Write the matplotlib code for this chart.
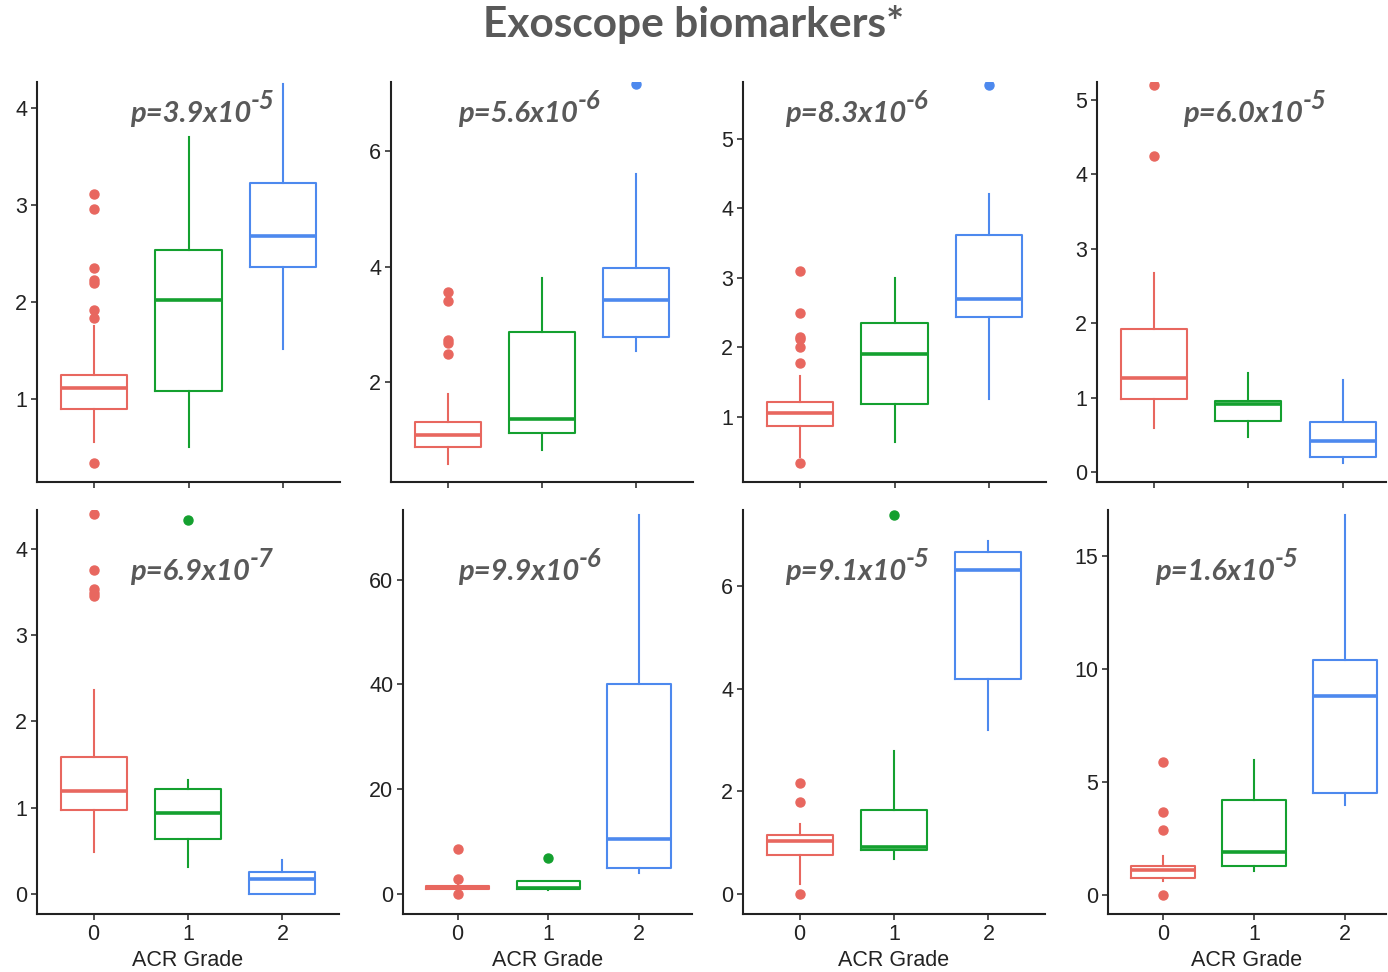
import numpy as np
import matplotlib.pyplot as plt

# ---------------------------- data ---------------------------- #
GRADES = [0, 1, 2]
GRADE_LABELS = ["0", "1", "2"]
COLORS = ["#E8675F", "#14A02F", "#4D89EE"]

# one row per panel, one value per ACR grade (0, 1, 2)
Q1 = [[0.90, 1.08, 2.36], [0.88, 1.12, 2.78], [0.86, 1.19, 2.43], [0.98, 0.69, 0.20],
      [0.98, 0.64, 0.00], [0.95, 1.01, 4.96], [0.75, 0.86, 4.18], [0.75, 1.30, 4.52]]
MED = [[1.11, 2.02, 2.68], [1.08, 1.37, 3.42], [1.05, 1.91, 2.70], [1.26, 0.92, 0.42],
       [1.20, 0.94, 0.17], [1.26, 1.14, 10.5], [1.04, 0.91, 6.31], [1.09, 1.89, 8.80]]
Q3 = [[1.25, 2.54, 3.23], [1.31, 2.87, 3.97], [1.21, 2.35, 3.61], [1.92, 0.96, 0.68],
      [1.59, 1.22, 0.26], [1.58, 2.41, 40.1], [1.15, 1.64, 6.67], [1.27, 4.22, 10.41]]
WHISK_LO = [[0.56, 0.50, 1.52], [0.58, 0.82, 2.54], [0.42, 0.64, 1.25], [0.60, 0.48, 0.12],
            [0.49, 0.32, 0.00], [0.60, 0.69, 4.00], [0.20, 0.68, 3.20], [0.60, 1.05, 4.00]]
WHISK_HI = [[1.75, 3.70, 4.25], [1.80, 3.80, 5.60], [1.59, 3.00, 4.20], [2.67, 1.34, 1.24],
            [2.37, 1.32, 0.39], [2.00, 2.41, 72.4], [1.36, 2.79, 6.88], [1.74, 5.99, 16.85]]
FLIERS = [
    [[3.11, 2.96, 2.35, 2.23, 2.20, 1.92, 1.84, 0.34], [], []],
    [[3.57, 3.41, 2.73, 2.67, 2.48], [], [7.16]],
    [[3.10, 2.50, 2.15, 2.12, 2.00, 1.77, 0.33], [], [5.78]],
    [[5.20, 4.24], [], []],
    [[4.40, 3.76, 3.53, 3.49, 3.45], [4.33], []],
    [[8.65, 2.86, 0.0], [6.87], []],
    [[2.17, 1.79, 0.0], [7.38], []],
    [[5.88, 3.68, 2.86, 0.0], [], []],
]
P_TEXT = ["p=3.9x10", "p=5.6x10", "p=8.3x10", "p=6.0x10",
          "p=6.9x10", "p=9.9x10", "p=9.1x10", "p=1.6x10"]
P_EXP = ["-5", "-6", "-6", "-5", "-7", "-6", "-5", "-5"]
Y_TICKS = [[1, 2, 3, 4], [2, 4, 6], [1, 2, 3, 4, 5], [0, 1, 2, 3, 4, 5],
           [0, 1, 2, 3, 4], [0, 20, 40, 60], [0, 2, 4, 6], [0, 5, 10, 15]]

# ---------------------------- layout ---------------------------- #
W, H = 1388, 972
# panel rectangles in pixels: left, top, right, bottom
RECTS = [(37, 82, 340, 482), (391, 82, 693, 482), (743, 82, 1046, 482), (1097, 82, 1386, 482),
         (37, 510, 339, 914), (403, 510, 692, 914), (743, 510, 1045, 914), (1108, 510, 1386, 914)]
YLIMS = [(0.144, 4.27), (0.27, 7.20), (0.06, 5.82), (-0.13, 5.24),
         (-0.23, 4.45), (-3.8, 73.3), (-0.39, 7.48), (-0.84, 17.06)]
XRIGHT = [2.6, 2.6, 2.6, 2.46, 2.6, 2.58, 2.6, 2.45]
# left x and baseline y of the p-value text, pixels
P_POS = [(130, 122), (458, 122), (785, 122), (1183, 122),
         (130, 580), (458, 580), (785, 580), (1155, 580)]

GREY = "#595959"
fig = plt.figure(figsize=(W / 100, H / 100), dpi=100)

fig.text(0.5, 1 - 25 / H, "Exoscope biomarkers*", ha="center", va="center",
         fontfamily="Lato", fontweight="bold", fontsize=30.5, color=GREY)

for i in range(8):
    l, t, r, b = RECTS[i]
    ax = fig.add_axes([l / W, 1 - b / H, (r - l) / W, (b - t) / H])

    stats = []
    for g in range(3):
        stats.append(dict(med=MED[i][g], q1=Q1[i][g], q3=Q3[i][g],
                          whislo=WHISK_LO[i][g], whishi=WHISK_HI[i][g],
                          fliers=FLIERS[i][g]))
    parts = ax.bxp(stats, positions=GRADES, widths=0.7, showcaps=False,
                   boxprops=dict(linewidth=1.5), whiskerprops=dict(linewidth=1.5),
                   medianprops=dict(linewidth=2.6, solid_capstyle="butt"))
    for g in range(3):
        c = COLORS[g]
        parts["boxes"][g].set_color(c)
        parts["medians"][g].set_color(c)
        parts["whiskers"][2 * g].set_color(c)
        parts["whiskers"][2 * g + 1].set_color(c)
        parts["fliers"][g].set(marker="o", markersize=6.5, markerfacecolor=c,
                               markeredgecolor=c, linestyle="none")

    ax.set_xlim(-0.6, XRIGHT[i])
    ax.set_ylim(*YLIMS[i])
    ax.set_yticks(Y_TICKS[i])
    ax.set_xticks(GRADES)
    for s in ["top", "right"]:
        ax.spines[s].set_visible(False)
    for s in ["left", "bottom"]:
        ax.spines[s].set_linewidth(1.5)
        ax.spines[s].set_color("#222222")
    ax.tick_params(length=4, width=1.2, color="#333333", labelsize=15.5,
                   labelcolor="#222222", pad=3)
    for lab in ax.get_yticklabels() + ax.get_xticklabels():
        lab.set_fontfamily("Liberation Sans")
    if i < 4:
        ax.set_xticklabels([])
    else:
        ax.set_xticklabels(GRADE_LABELS)
        ax.set_xlabel("ACR Grade", fontsize=15.5, fontfamily="Liberation Sans",
                      color="#222222", labelpad=4)

    px, py = P_POS[i]
    txt = fig.text(px / W, 1 - py / H, P_TEXT[i], ha="left", va="baseline",
                   fontfamily="Lato", fontweight="bold", style="italic",
                   fontsize=21, color=GREY)
    ax.annotate(P_EXP[i], xy=(1.0, 1.0), xycoords=txt, ha="left", va="center",
                fontfamily="Lato", fontweight="bold", style="italic",
                fontsize=18.5, color=GREY, annotation_clip=False)

fig.savefig("out.png", dpi=100)
